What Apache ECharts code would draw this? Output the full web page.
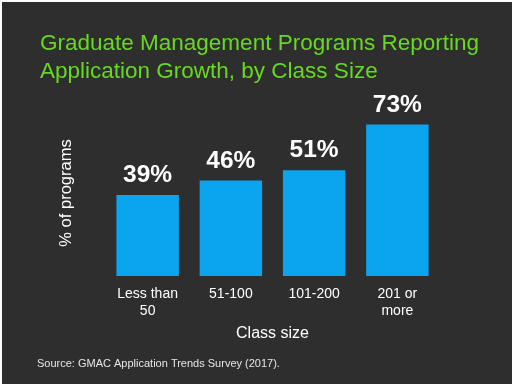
<!DOCTYPE html>
<html><head><meta charset="utf-8">
<script src="https://cdn.jsdelivr.net/npm/echarts@6/dist/echarts.min.js"></script>
<style>html,body{margin:0;padding:0;background:#fff}#c{width:515px;height:387px}</style>
</head><body><div id="c"></div>
<script>
const categories = ['Less than\n50', '51-100', '101-200', '201 or\nmore'];
const values = [39, 46, 51, 73];
const titleText = 'Graduate Management Programs Reporting\nApplication Growth, by Class Size';
const xName = 'Class size';
const yName = '% of programs';
const sourceText = 'Source: GMAC Application Trends Survey (2017).';

const chart = echarts.init(document.getElementById('c'));
chart.setOption({
  backgroundColor: '#ffffff',
  animation: false,
  graphic: [
    {type: 'rect', z: -10, shape: {x: 2, y: 2, width: 510, height: 382}, style: {fill: '#2e2e2e'}},
    {type: 'text', left: 37, top: 358, style: {text: sourceText, fill: '#e6e6e6', font: '11px "Liberation Sans", Arial, sans-serif'}}
  ],
  title: {
    text: titleText, left: 35, top: 25,
    textStyle: {color: '#66d920', fontSize: 22.5, fontWeight: 'normal', fontFamily: '"Liberation Sans", Arial, sans-serif', lineHeight: 28}
  },
  grid: {left: 106, right: 76, top: 110, bottom: 111},
  xAxis: {
    type: 'category', data: categories,
    name: xName, nameLocation: 'middle', nameGap: 50,
    nameTextStyle: {color: '#ffffff', fontSize: 16, fontFamily: '"Liberation Sans", Arial, sans-serif'},
    axisLine: {show: false}, axisTick: {show: false},
    axisLabel: {color: '#ffffff', fontSize: 14, lineHeight: 17, margin: 10, fontFamily: '"Liberation Sans", Arial, sans-serif'}
  },
  yAxis: {
    type: 'value', min: 0, max: 80,
    name: yName, nameLocation: 'middle', nameGap: 31, nameRotate: 90,
    nameTextStyle: {color: '#ffffff', fontSize: 16.5, fontFamily: '"Liberation Sans", Arial, sans-serif'},
    axisLine: {show: false}, axisTick: {show: false}, axisLabel: {show: false}, splitLine: {show: false}
  },
  series: [{
    type: 'bar', data: values, barWidth: '75%',
    itemStyle: {color: '#0ba4ef'},
    label: {show: true, position: 'top', distance: 7, formatter: '{c}%', color: '#ffffff', fontSize: 24.5, fontWeight: 'bold', fontFamily: '"Liberation Sans", Arial, sans-serif'}
  }]
});
</script></body></html>
